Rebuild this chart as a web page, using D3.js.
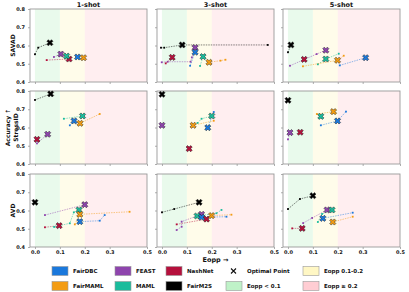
<!DOCTYPE html>
<html>
<head>
<meta charset="utf-8">
<script src="https://cdn.jsdelivr.net/npm/d3@7"></script>
<style>
body { margin: 0; background: #fff; }
text { font-family: "DejaVu Sans", sans-serif; font-weight: bold; fill: #111; }
</style>
</head>
<body>
<script>
var width = 409,
    height = 292

var shots = ["1-shot", "3-shot", "5-shot"]
var rowLabels = [["SAVAD"], ["Accuracy \u2191", "StressID"], ["AVD"]]
var methods = ["FairDBC", "FairMAML", "FEAST", "MAML", "NashNet", "FairM2S"]
var methodColors = ["#1a78dc", "#f39c12", "#8e44ad", "#1abc9c", "#b5103c", "#000000"]
var zoneLabels = ["Eopp < 0.1", "Eopp 0.1-0.2", "Eopp \u2265 0.2"]
var zoneColors = ["#bff2c8", "#fff7c4", "#ffcdd3"]
var zoneEdges = [0, 0.1, 0.2, 0.45]
var yTicks = [0.4, 0.5, 0.6, 0.7, 0.8]
var xTicks = [0, 0.1, 0.2, 0.3, 0.45]
var xTickLabels = ["0.0", "0.1", "0.2", "0.3", "0.5"]

// rows: [shot, method, Eopp, accuracy, optimal?]
var savad = [
  [0, "FairM2S", 0.0, 0.552, 0], [0, "FairM2S", 0.013, 0.588, 0], [0, "FairM2S", 0.06, 0.615, 1],
  [0, "FEAST", 0.076, 0.537, 0], [0, "FEAST", 0.104, 0.553, 1],
  [0, "NashNet", 0.047, 0.52, 0], [0, "NashNet", 0.137, 0.526, 1],
  [0, "MAML", 0.127, 0.542, 1],
  [0, "FairDBC", 0.171, 0.537, 1],
  [0, "FairMAML", 0.195, 0.533, 1],
  [1, "FairM2S", -0.004, 0.588, 0], [1, "FairM2S", 0.009, 0.588, 0], [1, "FairM2S", 0.081, 0.603, 1], [1, "FairM2S", 0.425, 0.603, 0],
  [1, "FEAST", -0.001, 0.508, 0], [1, "FEAST", 0.023, 0.511, 0], [1, "FEAST", 0.115, 0.511, 0], [1, "FEAST", 0.12, 0.535, 0], [1, "FEAST", 0.133, 0.588, 1],
  [1, "NashNet", 0.015, 0.502, 0], [1, "NashNet", 0.041, 0.535, 1],
  [1, "FairDBC", 0.113, 0.489, 0], [1, "FairDBC", 0.133, 0.563, 1],
  [1, "MAML", 0.153, 0.488, 0], [1, "MAML", 0.165, 0.539, 1],
  [1, "FairMAML", 0.189, 0.508, 1], [1, "FairMAML", 0.235, 0.517, 0], [1, "FairMAML", 0.255, 0.522, 0],
  [2, "FairM2S", 0.0, 0.563, 0], [2, "FairM2S", 0.012, 0.603, 1],
  [2, "FEAST", 0.008, 0.489, 0], [2, "FEAST", 0.115, 0.553, 0], [2, "FEAST", 0.152, 0.574, 1],
  [2, "NashNet", 0.065, 0.524, 1],
  [2, "MAML", 0.12, 0.497, 0], [2, "MAML", 0.152, 0.526, 1], [2, "MAML", 0.204, 0.555, 0],
  [2, "FairMAML", 0.06, 0.486, 0], [2, "FairMAML", 0.199, 0.519, 1], [2, "FairMAML", 0.224, 0.544, 0],
  [2, "FairDBC", 0.208, 0.491, 0], [2, "FairDBC", 0.312, 0.533, 1]
]

var stressid = [
  [0, "FairM2S", 0.0, 0.751, 0], [0, "FairM2S", 0.063, 0.784, 1],
  [0, "NashNet", 0.008, 0.535, 1],
  [0, "FEAST", 0.008, 0.513, 0], [0, "FEAST", 0.051, 0.563, 1],
  [0, "MAML", 0.116, 0.648, 0], [0, "MAML", 0.191, 0.663, 1],
  [0, "FairDBC", 0.14, 0.612, 0], [0, "FairDBC", 0.157, 0.636, 1],
  [0, "FairMAML", 0.181, 0.623, 1], [0, "FairMAML", 0.26, 0.674, 0],
  [1, "FairM2S", 0.0, 0.782, 1],
  [1, "FEAST", 0.0, 0.612, 1],
  [1, "NashNet", 0.109, 0.484, 1],
  [1, "FairMAML", 0.125, 0.612, 1], [1, "FairMAML", 0.208, 0.637, 0],
  [1, "MAML", 0.143, 0.625, 0], [1, "MAML", 0.159, 0.648, 0], [1, "MAML", 0.2, 0.663, 1],
  [1, "FairDBC", 0.184, 0.599, 1], [1, "FairDBC", 0.208, 0.685, 0],
  [2, "FairM2S", 0.0, 0.749, 1],
  [2, "FEAST", 0.0, 0.535, 0], [2, "FEAST", 0.008, 0.572, 1],
  [2, "NashNet", 0.049, 0.574, 1],
  [2, "MAML", 0.132, 0.661, 1],
  [2, "FairMAML", 0.116, 0.674, 0], [2, "FairMAML", 0.183, 0.687, 1],
  [2, "FairDBC", 0.132, 0.612, 0], [2, "FairDBC", 0.199, 0.636, 1], [2, "FairDBC", 0.233, 0.687, 0]
]

var avd = [
  [0, "FairM2S", 0.0, 0.645, 1],
  [0, "FEAST", 0.04, 0.575, 0], [0, "FEAST", 0.2, 0.632, 1],
  [0, "NashNet", 0.04, 0.508, 0], [0, "NashNet", 0.097, 0.517, 1],
  [0, "MAML", 0.077, 0.51, 0], [0, "MAML", 0.14, 0.53, 0], [0, "MAML", 0.156, 0.59, 0], [0, "MAML", 0.177, 0.603, 1],
  [0, "FairMAML", 0.16, 0.524, 0], [0, "FairMAML", 0.18, 0.579, 1], [0, "FairMAML", 0.38, 0.593, 0],
  [0, "FairDBC", 0.18, 0.539, 1], [0, "FairDBC", 0.26, 0.544, 0], [0, "FairDBC", 0.28, 0.575, 0],
  [1, "FairM2S", 0.0, 0.59, 0], [1, "FairM2S", 0.049, 0.608, 0], [1, "FairM2S", 0.149, 0.645, 1],
  [1, "FEAST", 0.059, 0.493, 0], [1, "FEAST", 0.079, 0.511, 0], [1, "FEAST", 0.079, 0.539, 0], [1, "FEAST", 0.159, 0.579, 1],
  [1, "NashNet", 0.059, 0.524, 0], [1, "NashNet", 0.179, 0.553, 1],
  [1, "MAML", 0.141, 0.57, 1], [1, "MAML", 0.219, 0.585, 0], [1, "MAML", 0.239, 0.603, 0],
  [1, "FairDBC", 0.159, 0.563, 1], [1, "FairDBC", 0.259, 0.566, 0],
  [1, "FairMAML", 0.199, 0.572, 1], [1, "FairMAML", 0.279, 0.577, 0],
  [2, "FairM2S", 0.0, 0.608, 0], [2, "FairM2S", 0.048, 0.663, 0], [2, "FairM2S", 0.1, 0.681, 1],
  [2, "FEAST", 0.061, 0.531, 0], [2, "FEAST", 0.097, 0.559, 0], [2, "FEAST", 0.157, 0.603, 1],
  [2, "NashNet", 0.017, 0.502, 0], [2, "NashNet", 0.057, 0.502, 1],
  [2, "MAML", 0.12, 0.537, 0], [2, "MAML", 0.137, 0.581, 0], [2, "MAML", 0.177, 0.603, 1],
  [2, "FairDBC", 0.14, 0.557, 1], [2, "FairDBC", 0.26, 0.588, 0],
  [2, "FairMAML", 0.18, 0.537, 1], [2, "FairMAML", 0.26, 0.566, 0]
]

var rowsData = [savad, stressid, avd]

// layout
var colLeft = [30, 157, 283],
    rowTop = [9, 91, 174],
    pw = 117,
    ph = 73

var x = d3.scaleLinear().domain([-0.02, 0.45]).range([0, pw])
var y = d3.scaleLinear().domain([0.4, 0.8]).range([ph, 0])
var color = d3.scaleOrdinal().domain(methods).range(methodColors)
var line = d3.line().x(function(d) { return x(d[2]) }).y(function(d) { return y(d[3]) })
var bigX = d3.symbol().type(d3.symbolCross).size(24)

var svg = d3.select("body").append("svg")
    .attr("width", width)
    .attr("height", height)

rowsData.forEach(function(data, r) {
  shots.forEach(function(shot, c) {
    var g = svg.append("g").attr("transform", "translate(" + colLeft[c] + "," + rowTop[r] + ")")

    // Eopp zones
    g.selectAll("rect.zone")
      .data(zoneColors)
      .enter().append("rect")
        .attr("class", "zone")
        .attr("x", function(d, i) { return x(zoneEdges[i]) })
        .attr("width", function(d, i) { return x(zoneEdges[i + 1]) - x(zoneEdges[i]) })
        .attr("y", 0)
        .attr("height", ph)
        .attr("fill", function(d) { return d })
        .attr("opacity", 0.35)

    // axes
    var xa = g.append("g").attr("transform", "translate(0," + ph + ")")
      .call(d3.axisBottom(x).tickValues(xTicks).tickSize(2).tickPadding(1.5)
        .tickFormat(function(d, i) { return r == 2 ? xTickLabels[i] : "" }))
    var ya = g.append("g")
      .call(d3.axisLeft(y).tickValues(yTicks).tickSize(2)
        .tickFormat(function(d) { return c == 0 ? d3.format(".1f")(d) : "" }))
    ;[xa, ya].forEach(function(a) {
      a.select(".domain").remove()
      a.selectAll("line").attr("stroke", "#777").attr("stroke-width", 0.6)
      a.selectAll("text").style("font-size", "5px").attr("fill", "#111")
    })
    xa.selectAll("text").attr("dy", "0.7em")

    g.append("rect")
      .attr("width", pw).attr("height", ph)
      .attr("fill", "none").attr("stroke", "#999").attr("stroke-width", 0.9)

    var groups = d3.group(data.filter(function(d) { return d[0] == c }), function(d) { return d[1] })
    groups.forEach(function(pts, m) {
      if (pts.length > 1) {
        g.append("path")
          .attr("d", line(pts))
          .attr("fill", "none")
          .attr("stroke", color(m))
          .attr("stroke-width", 0.7)
          .attr("stroke-dasharray", "1.5,1")
          .attr("opacity", 0.7)
      }
      g.selectAll(null)
        .data(pts.filter(function(d) { return !d[4] }))
        .enter().append("rect")
          .attr("x", function(d) { return x(d[2]) - 0.9 })
          .attr("y", function(d) { return y(d[3]) - 0.9 })
          .attr("width", 1.8).attr("height", 1.8)
          .attr("fill", color(m))
    })
    // optimal points on top
    g.selectAll(null)
      .data(data.filter(function(d) { return d[0] == c && d[4] }))
      .enter().append("path")
        .attr("d", bigX)
        .attr("transform", function(d) { return "translate(" + x(d[2]) + "," + y(d[3]) + ") rotate(45)" })
        .attr("fill", function(d) { return color(d[1]) })
        .attr("stroke", "#222")
        .attr("stroke-width", 0.5)

    if (r == 0) {
      g.append("text")
        .attr("x", pw / 2).attr("y", -2.5)
        .attr("text-anchor", "middle")
        .style("font-size", "6.5px")
        .text(shot)
    }
  })

  // row labels
  var lab = svg.append("text")
    .attr("transform", "translate(" + (rowLabels[r].length > 1 ? 10 : 15) + "," + (rowTop[r] + ph / 2) + ") rotate(-90)")
    .attr("text-anchor", "middle")
    .style("font-size", "6px")
  rowLabels[r].forEach(function(t, i) {
    lab.append("tspan").attr("x", 0).attr("dy", i == 0 ? 0 : "1.25em").text(t)
  })
})

svg.append("text")
  .attr("x", colLeft[1] + pw / 2).attr("y", 261.5)
  .attr("text-anchor", "middle")
  .style("font-size", "6.5px")
  .text("Eopp  \u2192")

// legend, column-major like matplotlib ncol=5
var legendItems = [
  {label: "FairDBC", fill: methodColors[0]}, {label: "FairMAML", fill: methodColors[1]},
  {label: "FEAST", fill: methodColors[2]}, {label: "MAML", fill: methodColors[3]},
  {label: "NashNet", fill: methodColors[4]}, {label: "FairM2S", fill: methodColors[5]},
  {label: "Optimal Point", marker: true}, {label: zoneLabels[0], fill: zoneColors[0]},
  {label: zoneLabels[1], fill: zoneColors[1]}, {label: zoneLabels[2], fill: zoneColors[2]}
]
var legCols = [52, 115, 166, 226, 303],
    legRows = [271, 286]

var leg = svg.selectAll("g.leg")
  .data(legendItems)
  .enter().append("g")
    .attr("class", "leg")
    .attr("transform", function(d, i) {
      return "translate(" + legCols[Math.floor(i / 2)] + "," + legRows[i % 2] + ")"
    })

leg.filter(function(d) { return !d.marker }).append("rect")
  .attr("x", 0).attr("y", -4.5)
  .attr("width", 16).attr("height", 9)
  .attr("fill", function(d) { return d.fill })
  .attr("stroke", "#999").attr("stroke-width", 0.6)

leg.filter(function(d) { return d.marker }).append("path")
  .attr("d", "M5,-2.5L10,2.5M5,2.5L10,-2.5")
  .attr("stroke", "#111").attr("stroke-width", 1.1)

leg.append("text")
  .attr("x", 21)
  .attr("dy", "0.35em")
  .style("font-size", "5.5px")
  .text(function(d) { return d.label })
</script>
</body>
</html>
